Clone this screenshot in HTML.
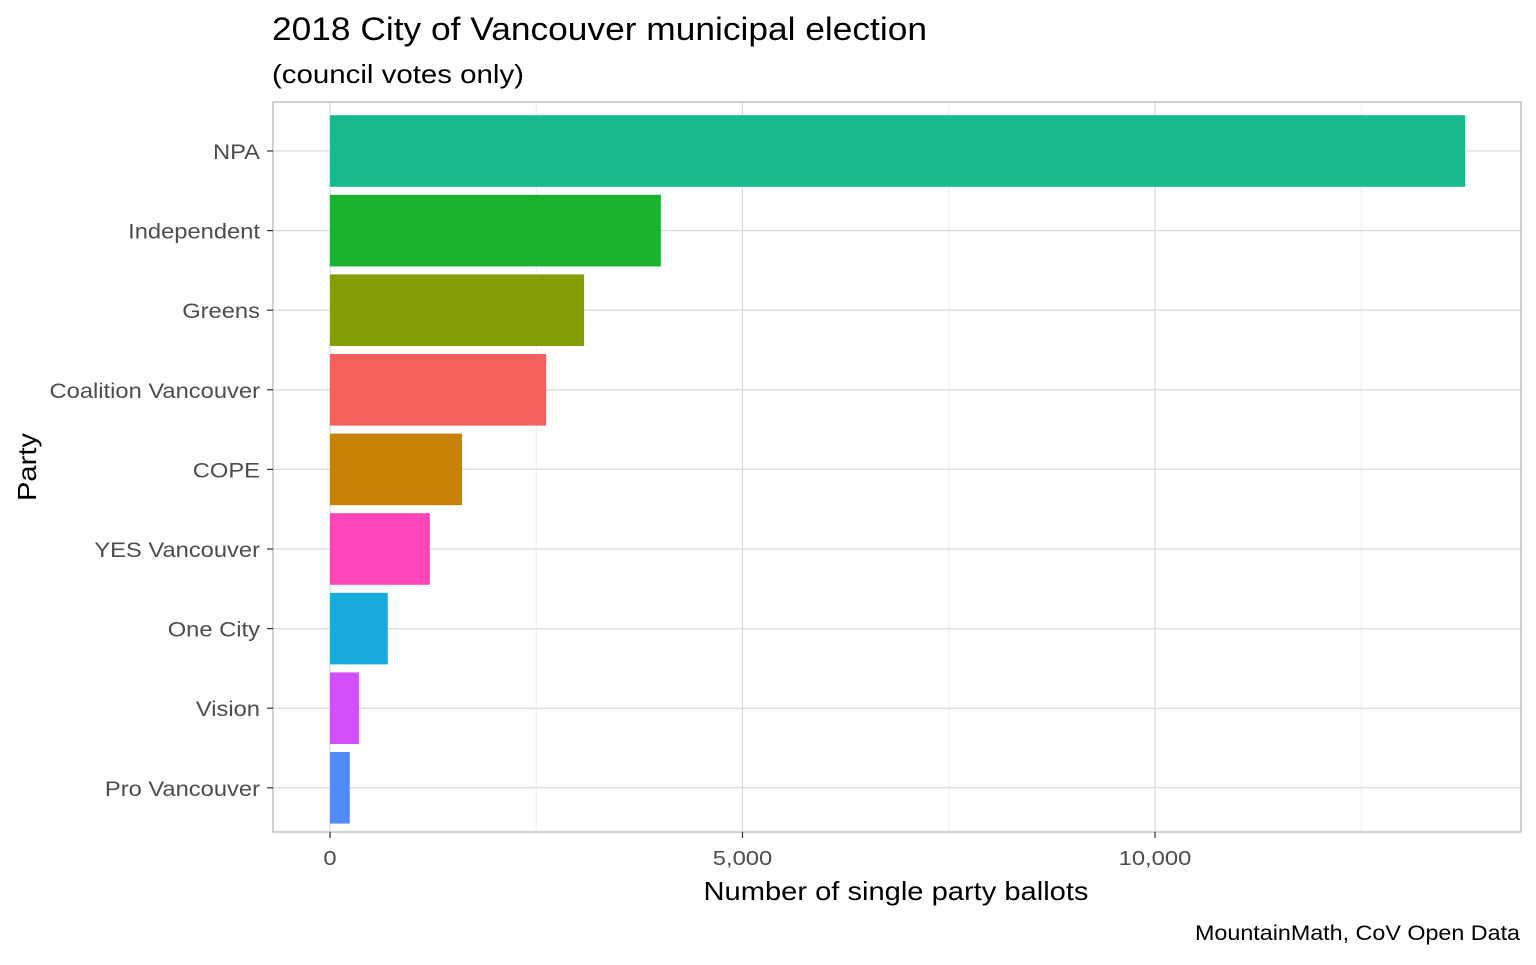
<!DOCTYPE html>
<html><head><meta charset="utf-8"><style>
body{margin:0;background:#fff;font-family:"Liberation Sans",Arial,sans-serif;}
svg text{font-family:"Liberation Sans",Arial,sans-serif;}
</style></head><body>
<svg id="chart" width="1536" height="960" viewBox="0 0 1536 960" xmlns="http://www.w3.org/2000/svg">
<text x="272" y="40" font-size="32" fill="#000" textLength="655" lengthAdjust="spacingAndGlyphs">2018 City of Vancouver municipal election</text>
<text x="272" y="83" font-size="26" fill="#000" textLength="252" lengthAdjust="spacingAndGlyphs">(council votes only)</text>
<g id="grid"></g>
<g id="bars"></g>
<rect x="273" y="102" width="1248" height="730" fill="none" stroke="#b3b3b3" stroke-width="1.2"/>
<g id="yaxis"></g>
<g id="xaxis"></g>
<text x="896" y="900" font-size="26" text-anchor="middle" fill="#000" textLength="385" lengthAdjust="spacingAndGlyphs">Number of single party ballots</text>
<text transform="translate(36,467) rotate(-90)" font-size="26" text-anchor="middle" fill="#000" textLength="68" lengthAdjust="spacingAndGlyphs">Party</text>
<text x="1520" y="940" font-size="21" text-anchor="end" fill="#000" textLength="325" lengthAdjust="spacingAndGlyphs">MountainMath, CoV Open Data</text>
</svg>
<script>
const categories=["NPA","Independent","Greens","Coalition Vancouver","COPE","YES Vancouver","One City","Vision","Pro Vancouver"];
const values=[13760,4010,3080,2620,1600,1210,700,350,240];
const colors=["#1ABA8F","#19B22E","#849E05","#F2615B","#C88106","#FF45B8","#19ABDD","#D150F9","#518AFF"];
const xTicks=[0,5000,10000];
const xTickLabels=["0","5,000","10,000"];
const xMinor=[2500,7500,12500];

const NS="http://www.w3.org/2000/svg";
const x0=330,pxPer=412.5/5000;
const xs=v=>x0+v*pxPer;
const top0=151,step=79.6,bh=71.6;
const ys=i=>top0+i*step;
const lblScale=1.19;
function mk(tag,attrs,parent){const e=document.createElementNS(NS,tag);for(const k in attrs)e.setAttribute(k,attrs[k]);parent.appendChild(e);return e;}
const grid=document.getElementById('grid'),bars=document.getElementById('bars'),ya=document.getElementById('yaxis'),xa=document.getElementById('xaxis');
xMinor.forEach(v=>{const l=mk('line',{x1:xs(v),x2:xs(v),y1:102,y2:832,stroke:'#ededed','stroke-width':1},grid);

});
xTicks.forEach((v,i)=>{const l=mk('line',{x1:xs(v),x2:xs(v),y1:102,y2:832,stroke:'#dcdcdc','stroke-width':1.3},grid);


const t=mk('line',{x1:xs(v),x2:xs(v),y1:832,y2:838,stroke:'#333','stroke-width':1.2},xa);


const tx=mk('text',{x:xs(v),y:865,'font-size':20,'text-anchor':'middle',fill:'#4d4d4d',transform:`translate(${xs(v)},0) scale(${lblScale},1) translate(${-xs(v)},0)`},xa);tx.textContent=xTickLabels[i];

});
categories.forEach((c,i)=>{const y=ys(i);
const g=mk('line',{x1:273,x2:1521,y1:y,y2:y,stroke:'#dcdcdc','stroke-width':1.3},grid);


const r=mk('rect',{x:xs(0),y:y-bh/2,width:xs(values[i])-xs(0),height:bh,fill:colors[i]},bars);


const t=mk('line',{x1:267,x2:273,y1:y,y2:y,stroke:'#333','stroke-width':1.2},ya);


const tx=mk('text',{x:260,y:y+8,'font-size':21,'text-anchor':'end',fill:'#4d4d4d',transform:`translate(260,0) scale(1.13,1) translate(-260,0)`},ya);tx.textContent=c;

});
</script>
</body></html>
